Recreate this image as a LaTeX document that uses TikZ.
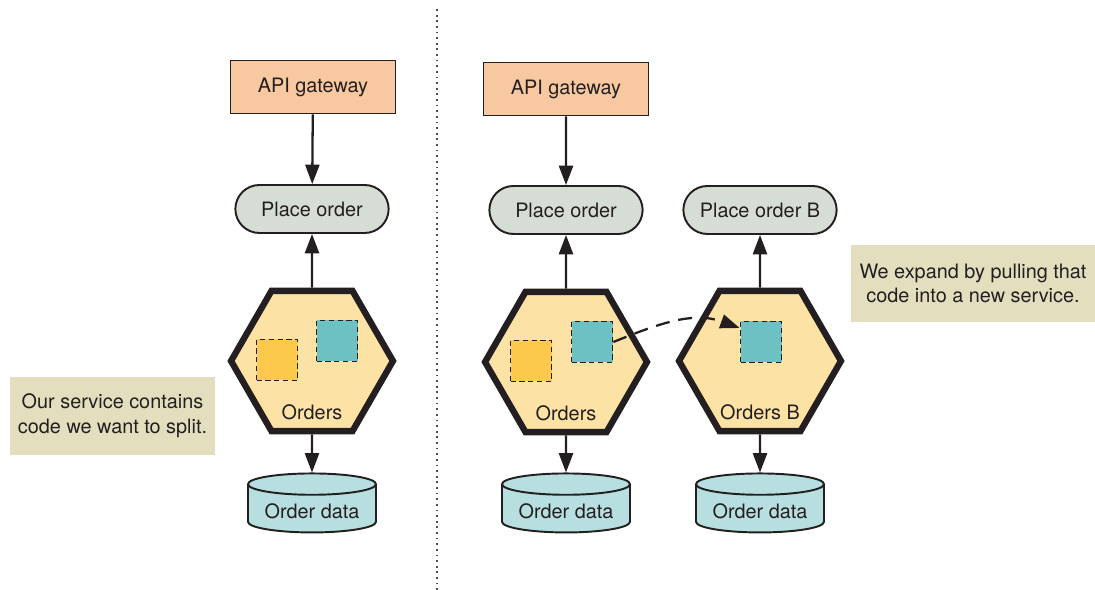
\documentclass[tikz,border=0pt]{standalone}
\usepackage{fontspec}
\setmainfont{TeX Gyre Heros}
\usetikzlibrary{arrows.meta,positioning,shapes.geometric,shapes.misc}
\definecolor{ink}{RGB}{35,31,32}
\definecolor{peach}{RGB}{248,200,160}
\definecolor{sage}{RGB}{213,221,212}
\definecolor{hexfill}{RGB}{253,226,166}
\definecolor{codeyel}{RGB}{253,201,76}
\definecolor{codeteal}{RGB}{110,193,195}
\definecolor{dbfill}{RGB}{184,223,224}
\definecolor{notefill}{RGB}{227,222,190}
\tikzset{
  gate/.style={draw=ink, line width=1.1pt, fill=peach, text=ink,
               minimum width=3.3cm, minimum height=1.06cm},
  op/.style={rounded rectangle, draw=ink, line width=1.1pt, fill=sage, text=ink,
             minimum width=3.3cm, minimum height=0.96cm},
  svc/.style={regular polygon, regular polygon sides=6, draw=ink,
              line width=3.6pt, fill=hexfill, minimum size=3.24cm, inner sep=0pt},
  code/.style={draw=ink, line width=1pt, dash pattern=on 3pt off 2pt,
               minimum size=0.82cm, inner sep=0pt},
  db/.style={cylinder, shape border rotate=90, aspect=0.2, draw=ink,
             line width=1.1pt, fill=dbfill, text=ink,
             minimum width=2.56cm, minimum height=1.18cm},
  note/.style={fill=notefill, text=ink, align=center, inner sep=0pt},
  lbl/.style={text=ink, inner sep=1pt},
  sig/.style={-{Triangle[length=11pt,width=8pt]}, line width=1.3pt, draw=ink},
  move/.style={-{Triangle[length=11pt,width=8pt]}, line width=1.3pt, draw=ink,
               dash pattern=on 8pt off 5pt},
}
\begin{document}
\begin{tikzpicture}[x=0.02cm, y=0.02cm, font=\fontsize{11.3}{14}\selectfont]
  \useasboundingbox (0,0) rectangle (1095,590);
  % divider
  \draw[ink!80, line width=0.8pt, dash pattern=on 1pt off 2.2pt] (437,0) -- (437,582);

  % left: before the split
  \node[gate] (apiL) at (313,503) {API gateway};
  \node[op] (opL) at (312,381) {Place order};
  \node[svc] (hexL) at (312,229) {};
  \node[lbl] (ordL) at ([yshift=-1.02cm]hexL.center) {Orders};
  \node[code,fill=codeyel] (yelL) at (277,230) {};
  \node[code,fill=codeteal] (tealL) at (337,249) {};
  \node[db] (dbL) at (312,79) {Order data};
  \draw[sig] (apiL) -- (opL);
  \draw[sig] (hexL.north) -- (opL);
  \draw[sig] (hexL.south) -- (dbL.north);
  \node[note, minimum width=4.1cm, minimum height=1.56cm] (noteL) at (112.5,174)
    {Our service contains\\code we want to split.};

  % right: after the split
  \node[gate] (apiR) at (566,501) {API gateway};
  \node[op] (opR) at (566,380) {Place order};
  \node[op] (opB) at (760,380) {Place order B};
  \node[svc] (hexR) at (566,228) {};
  \node[svc] (hexB) at (760,229) {};
  \node[lbl] (ordR) at ([yshift=-1.02cm]hexR.center) {Orders};
  \node[lbl] (ordB) at ([yshift=-1.02cm]hexB.center) {Orders B};
  \node[code,fill=codeyel] (yelR) at (531,229) {};
  \node[code,fill=codeteal] (tealR) at (592,248) {};
  \node[code,fill=codeteal] (tealB) at (761,248) {};
  \node[db] (dbR) at (566,79) {Order data};
  \node[db] (dbB) at (760,79) {Order data};
  \draw[sig] (apiR) -- (opR);
  \draw[sig] (hexR.north) -- (opR);
  \draw[sig] (hexB.north) -- (opB);
  \draw[sig] (hexR.south) -- (dbR.north);
  \draw[sig] (hexB.south) -- (dbB.north);
  \draw[move] (tealR.east) to[out=22, in=160] ([yshift=0.28cm]tealB.west);
  \node[note, minimum width=4.88cm, minimum height=1.54cm] (noteR) at (973,306.5)
    {We expand by pulling that\\code into a new service.};
\end{tikzpicture}
\end{document}
